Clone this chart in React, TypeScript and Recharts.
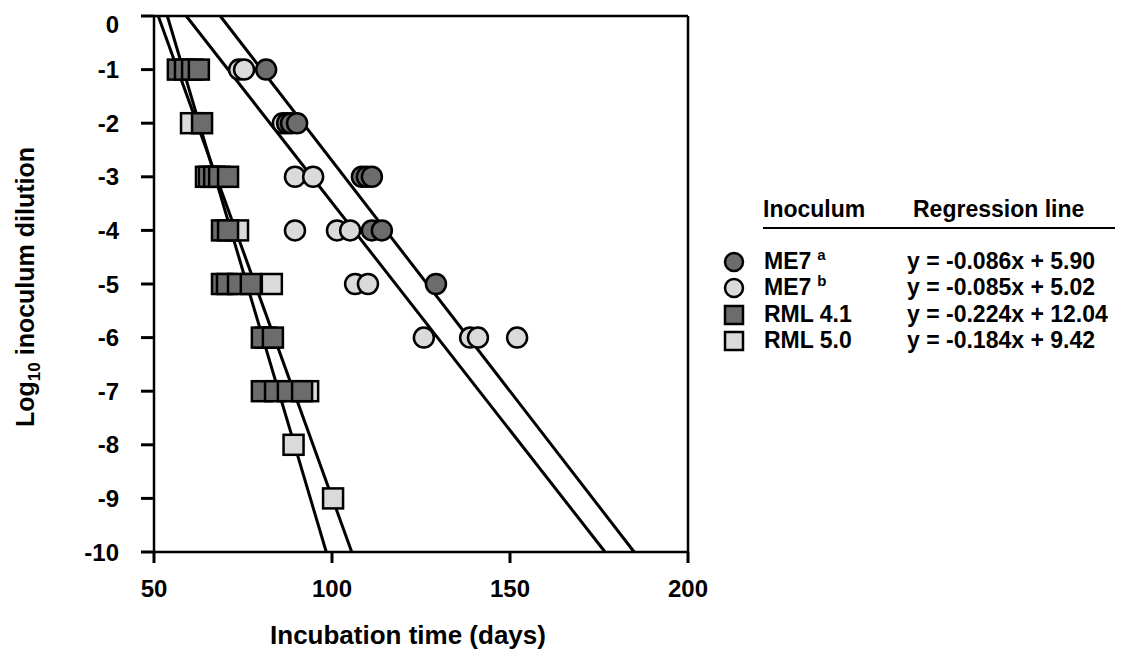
import { ScatterChart, Scatter, XAxis, YAxis, ReferenceLine } from "recharts";

// incubation time (days) and log10 dilution for each inoculum
const me7aDays = [81.5, 87.4, 88.5, 90.2, 108.4, 109.8, 111.2, 111.2, 114.0, 129.2];
const me7aLogs = [-1, -2, -2, -2, -3, -3, -3, -4, -4, -5];

const me7bDays = [73.9, 75.3, 86.2, 89.6, 94.7, 89.6, 101.4, 105.1, 106.5, 110.1, 125.8, 138.8, 141.0, 152.0];
const me7bLogs = [-1, -1, -2, -3, -3, -4, -4, -4, -5, -5, -6, -6, -6, -6];

const rml41Days = [56.7, 58.7, 60.7, 62.6, 63.5, 65.4, 66.9, 68.3, 70.8, 69.1, 70.8, 69.1, 70.5, 73.6, 77.2, 80.3, 83.4, 80.3, 84.0, 87.6, 91.6];
const rml41Logs = [-1, -1, -1, -1, -2, -3, -3, -3, -3, -4, -4, -5, -5, -5, -5, -6, -6, -7, -7, -7, -7];

const rml50Days = [60.4, 64.6, 73.6, 83.1, 81.5, 93.3, 89.2, 100.3];
const rml50Logs = [-2, -3, -4, -5, -6, -7, -8, -9];

// regression lines
const seriesNames = ["ME7", "ME7", "RML 4.1", "RML 5.0"];
const seriesSup = ["a", "b", "", ""];
const slopes = [-0.086, -0.085, -0.224, -0.184];
const intercepts = [5.9, 5.02, 12.04, 9.42];
const equations = ["y = -0.086x + 5.90", "y = -0.085x + 5.02", "y = -0.224x + 12.04", "y = -0.184x + 9.42"];

const xTicks = [50, 100, 150, 200];
const yTicks = [0, -1, -2, -3, -4, -5, -6, -7, -8, -9, -10];

const FONT = "'Liberation Sans', Arial, Helvetica, sans-serif";
const DARK = "#6c6c6c";
const LIGHT = "#dadada";
const TICK_LEN = 13;
const Y_GAP = 22;
const X_TICK_LEN = 11;
const X_GAP = 17;

const zip = (xs: number[], ys: number[]) => xs.map((x, i) => ({ x, y: ys[i] }));

const circleShape = (fill: string) => (p: any) => (
    <circle cx={p.cx} cy={p.cy} r={10} fill={fill} stroke="#000" strokeWidth={2.5} />
);
const squareShape = (fill: string) => (p: any) => (
    <rect x={p.cx - 10} y={p.cy - 10} width={20} height={20} fill={fill} stroke="#000" strokeWidth={2.5} />
);

// tick mark + label; the "0" label sits a bit lower than its tick in the original
function YTick(p: any) {
    const x = Number(p.x);
    const y = Number(p.y);
    const shift = p.payload.value === 0 ? 8 : 0;
    return (
        <g>
            <line x1={x + Y_GAP} x2={x + Y_GAP + TICK_LEN} y1={y} y2={y} stroke="#000" strokeWidth={3} />
            <text x={x} y={y + shift} dy="0.36em" textAnchor="end"
                fontFamily={FONT} fontWeight="bold" fontSize={24} fill="#000">
                {p.payload.value}
            </text>
        </g>
    );
}

function XTick(p: any) {
    const x = Number(p.x);
    const y = Number(p.y);
    return (
        <g>
            <line x1={x} x2={x} y1={y - X_GAP - X_TICK_LEN} y2={y - X_GAP} stroke="#000" strokeWidth={3} />
            <text x={x} y={y} dy="0.71em" textAnchor="middle"
                fontFamily={FONT} fontWeight="bold" fontSize={24} fill="#000">
                {p.payload.value}
            </text>
        </g>
    );
}

function XLabel(props: any) {
    const vb = props.viewBox;
    return (
        <text x={vb.x + vb.width / 2 - 13} y={vb.y + 92} textAnchor="middle"
            fontFamily={FONT} fontWeight="bold" fontSize={26} fill="#000">
            Incubation time (days)
        </text>
    );
}

function YLabel(props: any) {
    const vb = props.viewBox;
    const cx = 26;
    const cy = vb.y + vb.height / 2 + 3;
    return (
        <text x={cx} y={cy} textAnchor="middle" transform={`rotate(-90, ${cx}, ${cy})`}
            fontFamily={FONT} fontWeight="bold" fontSize={25} fill="#000">
            Log<tspan dy={6} fontSize={17}>10</tspan><tspan dy={-6}> inoculum dilution</tspan>
        </text>
    );
}

function LegendBox() {
    const rows = [269, 295, 322, 348];
    return (
        <svg width={1107} height={658} style={{ position: "absolute", left: 0, top: 0, pointerEvents: "none" }}>
            <g fontFamily={FONT} fontWeight="bold" fontSize={23} fill="#000">
                <text x={755} y={209}>Inoculum</text>
                <text x={905} y={209}>Regression line</text>
                <line x1={755} x2={1112} y1={220} y2={220} stroke="#000" strokeWidth={2} />
                {seriesNames.map((name, i) => {
                    const y = rows[i] - 8;
                    const cy = y - 7;
                    return (
                        <g key={i}>
                            {i < 2 ? (
                                <circle cx={726} cy={cy} r={9} fill={i === 0 ? DARK : LIGHT} stroke="#000" strokeWidth={2.5} />
                            ) : (
                                <rect x={717} y={cy - 9} width={18} height={18} fill={i === 2 ? DARK : LIGHT} stroke="#000" strokeWidth={2.5} />
                            )}
                            <text x={756} y={y}>
                                {name}
                                {seriesSup[i] && <tspan dx={6} dy={-9} fontSize={15}>{seriesSup[i]}</tspan>}
                            </text>
                            <text x={899} y={y}>{equations[i]}</text>
                        </g>
                    );
                })}
            </g>
        </svg>
    );
}

export default function App() {
    const axisStyle = { stroke: "#000", strokeWidth: 2.5 };

    return (
        <div style={{ position: "relative", width: 1107, height: 658 }}>
            <ScatterChart width={1107} height={658} margin={{ top: 8, right: 427, bottom: 0, left: 0 }}>
                <XAxis type="number" dataKey="x" domain={[50, 200]} ticks={xTicks} allowDataOverflow interval={0}
                    stroke="#000" height={114} tickSize={X_TICK_LEN} tickMargin={X_GAP} axisLine={axisStyle} tickLine={false}
                    tick={<XTick />} label={<XLabel />} />
                <YAxis type="number" dataKey="y" domain={[-10, 0]} ticks={yTicks} allowDataOverflow interval={0}
                    stroke="#000" width={146} tickSize={TICK_LEN} tickMargin={Y_GAP} axisLine={axisStyle} tickLine={false}
                    tick={<YTick />} label={<YLabel />} />
                <ReferenceLine y={0} stroke="#000" strokeWidth={2.5} />
                <ReferenceLine x={200} stroke="#000" strokeWidth={2.5} />
                <Scatter name="RML 5.0" data={zip(rml50Days, rml50Logs)} shape={squareShape(LIGHT)} isAnimationActive={false} />
                <Scatter name="RML 4.1" data={zip(rml41Days, rml41Logs)} shape={squareShape(DARK)} isAnimationActive={false} />
                <Scatter name="ME7 b" data={zip(me7bDays, me7bLogs)} shape={circleShape(LIGHT)} isAnimationActive={false} />
                <Scatter name="ME7 a" data={zip(me7aDays, me7aLogs)} shape={circleShape(DARK)} isAnimationActive={false} />
                {slopes.map((m, i) => (
                    <ReferenceLine key={i} stroke="#000" strokeWidth={3}
                        segment={[
                            { x: (0 - intercepts[i]) / m, y: 0 },
                            { x: (-10 - intercepts[i]) / m, y: -10 },
                        ]} />
                ))}
            </ScatterChart>
            <LegendBox />
        </div>
    );
}
